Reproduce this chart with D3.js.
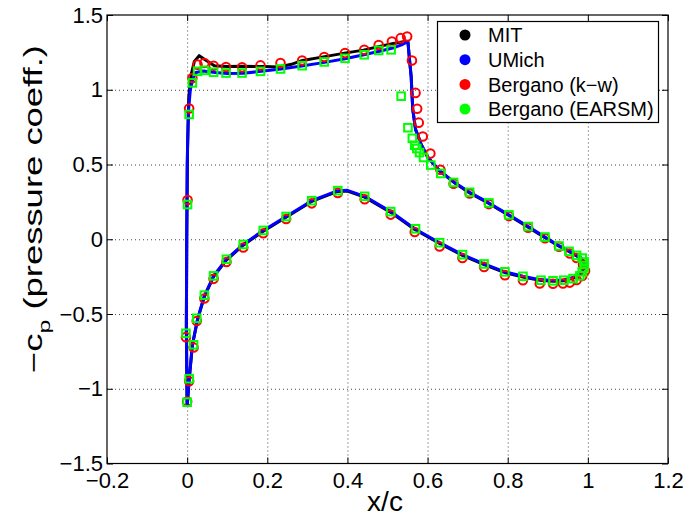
<!DOCTYPE html>
<html>
<head>
<meta charset="utf-8">
<script src="https://cdn.jsdelivr.net/npm/d3@7"></script>
<style>
  body { margin: 0; background: #fff; }
  svg { display: block; font-family: "Liberation Sans", Arial, Helvetica, sans-serif; }
</style>
</head>
<body>
<div id="grafico"></div>
<script>
// tick labels
const xTicks = [-0.2, 0, 0.2, 0.4, 0.6, 0.8, 1, 1.2];
const yTicks = [-1.5, -1, -0.5, 0, 0.5, 1, 1.5];

// legend entries
const seriesNames = ["MIT", "UMich", "Bergano (k\u2212w)", "Bergano (EARSM)"];

// MIT (black line)
const mitX = [0.000, -0.002, -0.001, 0.001, 0.004, 0.010, 0.018, 0.030, 0.045, 0.068, 0.100, 0.138, 0.190, 0.230, 0.260, 0.288, 0.340, 0.393, 0.440, 0.480, 0.515, 0.547, 0.551, 0.555, 0.559, 0.563, 0.570, 0.584, 0.601, 0.630, 0.667, 0.705, 0.753, 0.803, 0.851, 0.893, 0.928, 0.955, 0.973, 0.986, 0.991, 0.990, 0.984, 0.970, 0.940, 0.913, 0.880, 0.838, 0.793, 0.741, 0.687, 0.630, 0.568, 0.508, 0.443, 0.400, 0.376, 0.311, 0.247, 0.190, 0.140, 0.098, 0.066, 0.043, 0.026, 0.013, 0.005, 0.001, 0.000];
const mitY = [-1.120, -0.600, 0.000, 0.600, 0.950, 1.100, 1.190, 1.228, 1.200, 1.161, 1.155, 1.157, 1.155, 1.152, 1.170, 1.196, 1.220, 1.245, 1.265, 1.290, 1.310, 1.325, 1.320, 1.200, 1.090, 0.870, 0.735, 0.635, 0.547, 0.458, 0.378, 0.310, 0.239, 0.159, 0.081, 0.011, -0.047, -0.085, -0.114, -0.134, -0.164, -0.194, -0.224, -0.254, -0.277, -0.281, -0.275, -0.253, -0.223, -0.170, -0.108, -0.028, 0.065, 0.180, 0.282, 0.322, 0.320, 0.253, 0.147, 0.054, -0.040, -0.139, -0.250, -0.383, -0.538, -0.711, -0.944, -1.088, -1.120];

// UMich (blue line)
const umichX = [0.000, -0.002, -0.001, 0.000, 0.003, 0.008, 0.015, 0.022, 0.040, 0.070, 0.100, 0.140, 0.180, 0.234, 0.290, 0.343, 0.394, 0.438, 0.480, 0.513, 0.535, 0.547, 0.551, 0.555, 0.559, 0.563, 0.570, 0.584, 0.601, 0.630, 0.667, 0.705, 0.753, 0.803, 0.851, 0.893, 0.928, 0.955, 0.973, 0.986, 0.991, 0.990, 0.984, 0.970, 0.940, 0.913, 0.880, 0.838, 0.793, 0.741, 0.687, 0.630, 0.568, 0.508, 0.443, 0.400, 0.376, 0.311, 0.247, 0.190, 0.140, 0.098, 0.066, 0.043, 0.026, 0.013, 0.005, 0.001, 0.000];
const umichY = [-1.115, -0.600, 0.000, 0.500, 0.850, 1.000, 1.080, 1.115, 1.125, 1.115, 1.108, 1.110, 1.122, 1.139, 1.160, 1.183, 1.207, 1.232, 1.258, 1.279, 1.300, 1.316, 1.318, 1.200, 1.090, 0.870, 0.735, 0.635, 0.547, 0.458, 0.380, 0.314, 0.243, 0.163, 0.085, 0.015, -0.043, -0.081, -0.110, -0.130, -0.160, -0.190, -0.220, -0.250, -0.272, -0.276, -0.270, -0.248, -0.218, -0.165, -0.103, -0.023, 0.070, 0.185, 0.287, 0.327, 0.325, 0.258, 0.152, 0.059, -0.035, -0.134, -0.245, -0.378, -0.533, -0.706, -0.939, -1.083, -1.115];

// Bergano k-w (red circles)
const kwX = [0.000, 0.005, -0.003, 0.001, 0.005, 0.013, 0.026, 0.043, 0.066, 0.097, 0.137, 0.183, 0.233, 0.287, 0.342, 0.394, 0.442, 0.478, 0.511, 0.533, 0.549, 0.561, 0.570, 0.574, 0.578, 0.588, 0.607, 0.632, 0.665, 0.705, 0.753, 0.803, 0.851, 0.893, 0.928, 0.955, 0.972, 0.988, 0.993, 0.986, 0.972, 0.955, 0.938, 0.913, 0.880, 0.838, 0.793, 0.741, 0.687, 0.630, 0.568, 0.508, 0.443, 0.376, 0.311, 0.247, 0.190, 0.140, 0.098, 0.066, 0.043, 0.024, 0.016];
const kwY = [-1.085, -0.950, -0.655, 0.263, 0.875, 1.079, 1.168, 1.179, 1.161, 1.152, 1.150, 1.163, 1.179, 1.196, 1.219, 1.245, 1.267, 1.299, 1.323, 1.345, 1.356, 1.196, 0.979, 0.873, 0.780, 0.687, 0.573, 0.465, 0.372, 0.306, 0.235, 0.155, 0.077, 0.007, -0.050, -0.095, -0.125, -0.170, -0.210, -0.245, -0.272, -0.290, -0.296, -0.298, -0.296, -0.274, -0.240, -0.185, -0.125, -0.048, 0.048, 0.165, 0.268, 0.310, 0.240, 0.135, 0.040, -0.055, -0.152, -0.265, -0.396, -0.547, -0.724];

// Bergano EARSM (green squares)
const earsmX = [0.000, 0.005, -0.003, 0.016, 0.024, 0.043, 0.066, 0.098, 0.140, 0.190, 0.247, 0.311, 0.376, 0.443, 0.508, 0.570, 0.630, 0.687, 0.741, 0.793, 0.838, 0.883, 0.913, 0.940, 0.963, 0.980, 0.986, 0.991, 0.991, 0.986, 0.972, 0.953, 0.928, 0.893, 0.851, 0.803, 0.753, 0.705, 0.665, 0.633, 0.608, 0.590, 0.580, 0.573, 0.568, 0.562, 0.551, 0.534, 0.509, 0.478, 0.442, 0.394, 0.342, 0.287, 0.233, 0.183, 0.137, 0.097, 0.066, 0.043, 0.026, 0.013, 0.005, 0.001];
const earsmY = [-1.090, -0.933, -0.629, -0.706, -0.529, -0.374, -0.245, -0.134, -0.035, 0.059, 0.152, 0.258, 0.325, 0.287, 0.185, 0.070, -0.023, -0.103, -0.165, -0.218, -0.248, -0.274, -0.278, -0.274, -0.263, -0.245, -0.218, -0.192, -0.152, -0.126, -0.108, -0.081, -0.045, 0.015, 0.085, 0.163, 0.243, 0.314, 0.380, 0.440, 0.496, 0.547, 0.580, 0.607, 0.629, 0.675, 0.746, 0.957, 1.267, 1.263, 1.234, 1.210, 1.186, 1.161, 1.139, 1.123, 1.112, 1.112, 1.117, 1.130, 1.123, 1.046, 0.835, 0.232];

const largura = 684;
const altura = 518;
const margem = { top: 15, right: 16, bottom: 54.5, left: 107 };
const x0 = margem.left, x1 = largura - margem.right;
const y0 = margem.top, y1 = altura - margem.bottom;

const svg = d3.select("#grafico").append("svg")
    .attr("width", largura)
    .attr("height", altura);

const escalaX = d3.scaleLinear().domain([-0.2, 1.2]).range([x0, x1]);
const escalaY = d3.scaleLinear().domain([-1.5, 1.5]).range([y1, y0]);

const fmt = d => String(d).replace("-", "\u2212");

// grade pontilhada
const grade = svg.append("g").attr("class", "grade");
grade.append("g")
    .attr("transform", `translate(0,${y1})`)
    .call(d3.axisBottom(escalaX).tickValues(xTicks.slice(1, -1)).tickSize(-(y1 - y0)).tickFormat(""));
grade.append("g")
    .attr("transform", `translate(${x0},0)`)
    .call(d3.axisLeft(escalaY).tickValues(yTicks.slice(1, -1)).tickSize(-(x1 - x0)).tickFormat(""));
grade.selectAll(".domain").remove();
grade.selectAll("line")
    .attr("stroke", "#444")
    .attr("stroke-width", 1)
    .attr("stroke-dasharray", "1,3");

// curvas
const linha = d3.line().x(d => escalaX(d[0])).y(d => escalaY(d[1]));
const mit = d3.zip(mitX, mitY);
const umich = d3.zip(umichX, umichY);

svg.append("path").datum(mit)
    .attr("d", linha)
    .attr("fill", "none")
    .attr("stroke", "#000")
    .attr("stroke-width", 3)
    .attr("stroke-linejoin", "round");

svg.append("path").datum(umich)
    .attr("d", linha)
    .attr("fill", "none")
    .attr("stroke", "#0000ff")
    .attr("stroke-width", 3)
    .attr("stroke-linejoin", "round");

// circulos k-w
svg.append("g").selectAll("circle")
    .data(d3.zip(kwX, kwY))
    .enter()
    .append("circle")
    .attr("cx", d => escalaX(d[0]))
    .attr("cy", d => escalaY(d[1]))
    .attr("r", 4.3)
    .attr("fill", "none")
    .attr("stroke", "#ff0000")
    .attr("stroke-width", 2);

// quadrados EARSM
svg.append("g").selectAll("rect")
    .data(d3.zip(earsmX, earsmY))
    .enter()
    .append("rect")
    .attr("x", d => escalaX(d[0]) - 3.8)
    .attr("y", d => escalaY(d[1]) - 3.8)
    .attr("width", 7.6)
    .attr("height", 7.6)
    .attr("fill", "none")
    .attr("stroke", "#00ff00")
    .attr("stroke-width", 2);

// eixos (ticks para dentro, caixa fechada)
const eixoB = svg.append("g")
    .attr("transform", `translate(0,${y1})`)
    .call(d3.axisBottom(escalaX).tickValues(xTicks).tickSize(-6).tickPadding(9).tickFormat(fmt));
const eixoT = svg.append("g")
    .attr("transform", `translate(0,${y0})`)
    .call(d3.axisTop(escalaX).tickValues(xTicks).tickSize(-6).tickFormat(""));
const eixoL = svg.append("g")
    .attr("transform", `translate(${x0},0)`)
    .call(d3.axisLeft(escalaY).tickValues(yTicks).tickSize(-6).tickPadding(4).tickFormat(fmt));
const eixoR = svg.append("g")
    .attr("transform", `translate(${x1},0)`)
    .call(d3.axisRight(escalaY).tickValues(yTicks).tickSize(-6).tickFormat(""));

[eixoB, eixoT, eixoL, eixoR].forEach(g => {
    g.select(".domain").remove();
    g.selectAll("line").attr("stroke", "#000");
    g.selectAll("text").attr("fill", "#000").style("font-size", "22px");
});

svg.append("rect")
    .attr("x", x0).attr("y", y0)
    .attr("width", x1 - x0).attr("height", y1 - y0)
    .attr("fill", "none")
    .attr("stroke", "#000")
    .attr("stroke-width", 1.2);

// legenda
const cores = ["#000000", "#0000ff", "#ff0000", "#00ff00"];
const leg = svg.append("g");
leg.append("rect")
    .attr("x", 437.5).attr("y", 21.5)
    .attr("width", 221).attr("height", 101)
    .attr("fill", "#fff")
    .attr("stroke", "#000")
    .attr("stroke-width", 1.2);
seriesNames.forEach((nome, i) => {
    const cy = 35 + i * 24.7;
    leg.append("circle")
        .attr("cx", 465).attr("cy", cy).attr("r", 5.5)
        .attr("fill", cores[i]);
    leg.append("text")
        .attr("x", 488).attr("y", cy + 7.3)
        .style("font-size", "20px")
        .text(nome);
});

// rótulos dos eixos
svg.append("text")
    .attr("x", 385).attr("y", 511)
    .attr("text-anchor", "middle")
    .style("font-size", "28px")
    .text("x/c");

const rotY = svg.append("g").attr("transform", "translate(42,209) rotate(-90)");
const txtY = rotY.append("text")
    .attr("text-anchor", "middle")
    .style("font-size", "25px");
txtY.append("tspan").text("\u2212c");
txtY.append("tspan").attr("dy", 8).style("font-size", "17px").text("p");
txtY.append("tspan").attr("dy", -8).text(" (pressure coeff.)");
const larg = txtY.node().getBBox().width;
txtY.attr("transform", `scale(${328 / larg},1)`);
</script>
</body>
</html>
